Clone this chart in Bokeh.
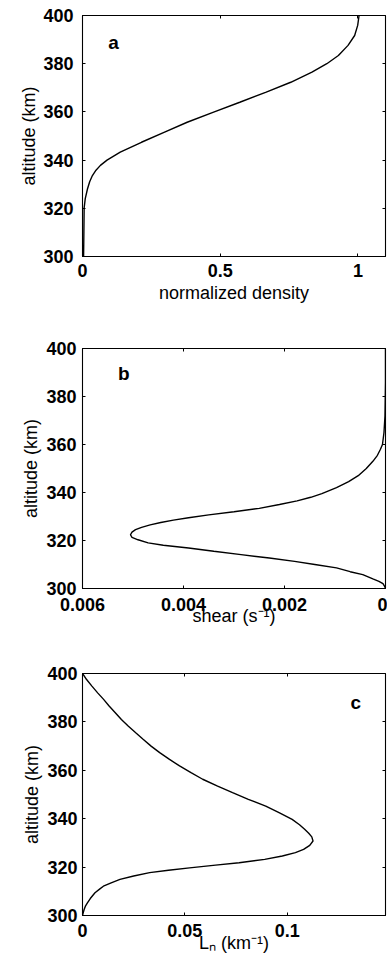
from bokeh.plotting import figure
from bokeh.models import Range1d, LinearAxis, FixedTicker, Label
from bokeh.layouts import column
from bokeh.embed import file_html
from bokeh.resources import INLINE

# ---- data ----
alt_a = [300, 310, 320.2, 324, 328, 331, 333.6, 335.8, 337.8, 340, 343.3, 347.4, 351.6,
         355.7, 359.9, 364, 368.2, 372.3, 376.5, 380, 383.4, 387.6, 391.7, 395.9, 400]
dens_a = [0.004, 0.005, 0.006, 0.01, 0.018, 0.026, 0.036, 0.049, 0.065, 0.089, 0.137,
          0.214, 0.298, 0.38, 0.476, 0.571, 0.667, 0.756, 0.833, 0.887, 0.929, 0.964,
          0.988, 0.999, 1.004]

alt_b = [300, 301, 302, 303, 304, 305.8, 307, 308.6, 310, 311.3, 312.7, 314.1, 315.5,
         316.9, 318, 319, 320.3, 321.3, 322.4, 323.5, 324.5, 325.5, 326.5, 327.5, 328.5,
         329.5, 330.7, 332, 333.4, 335, 336.5, 338, 339.5, 342, 344.5, 347, 350, 353,
         355.5, 358, 360, 365, 372, 386, 400]
shear_b = [0.0, 0.00002, 0.00005, 0.00013, 0.00025, 0.00045, 0.0007, 0.00097, 0.0014,
           0.0018, 0.0023, 0.00286, 0.0034, 0.0039, 0.0044, 0.0047, 0.0049, 0.00502,
           0.00505, 0.00502, 0.00495, 0.00483, 0.00466, 0.00445, 0.0042, 0.0039,
           0.0035, 0.003, 0.0025, 0.0021, 0.00175, 0.00148, 0.00126, 0.00097, 0.00073,
           0.00054, 0.00038, 0.00025, 0.00016, 0.0001, 0.00006, 0.00003, 0.00001, 0.0,
           0.0]

alt_c = [300, 301, 302.5, 304, 305.2, 307, 309.4, 311, 312.1, 313.5, 314.9, 316.3, 317.7,
         318.7, 319.7, 320.8, 321.8, 323.2, 324.6, 326, 327.3, 329, 330.8, 332.5, 334,
         335.6, 337.5, 339.7, 342.5, 345.2, 348, 350.8, 353.5, 356.3, 359, 361.8, 364.5,
         367.3, 370, 372.8, 375.5, 378.3, 381, 383.9, 386.6, 389.4, 392, 394.9, 397.5, 400]
ln_c = [0.0, 0.0003, 0.0008, 0.0015, 0.0024, 0.0038, 0.0061, 0.0085, 0.0102, 0.014,
        0.0183, 0.025, 0.0328, 0.042, 0.0523, 0.065, 0.0765, 0.089, 0.0976, 0.104, 0.108,
        0.111, 0.1126, 0.112, 0.1105, 0.1085, 0.106, 0.1024, 0.096, 0.0895, 0.081,
        0.0733, 0.066, 0.0587, 0.053, 0.0474, 0.0425, 0.0377, 0.0335, 0.0296, 0.026,
        0.0223, 0.019, 0.0159, 0.013, 0.0102, 0.0074, 0.0045, 0.002, 0.0]

y_ticks = [300, 320, 340, 360, 380, 400]
xt_a = [0, 0.5, 1]
xt_b = [0.006, 0.004, 0.002, 0]
xt_c = [0, 0.05, 0.1]

FONT = "Liberation Sans"


def make(width, height, xr, yr, bl, br, bt, bb, xticks, xlabel, xoverrides,
         tick_std, lab_std, ytick_std, ylab_std):
    p = figure(width=width, height=height, x_range=xr, y_range=yr,
               output_backend="svg", toolbar_location=None,
               min_border_left=bl, min_border_right=br,
               min_border_top=bt, min_border_bottom=bb)
    p.grid.visible = False
    p.outline_line_color = "black"
    p.outline_line_width = 1.1
    p.background_fill_color = "white"
    p.border_fill_color = "white"
    for ax, ticks in ((p.xaxis[0], xticks), (p.yaxis[0], y_ticks)):
        ax.ticker = FixedTicker(ticks=ticks)
        ax.major_tick_in = 3
        ax.major_tick_out = 0
        ax.minor_tick_line_color = None
        ax.axis_line_color = "black"
        ax.major_tick_line_color = "black"
        ax.major_label_text_font = FONT
        ax.major_label_text_font_size = "18px"
        ax.major_label_text_font_style = "bold"
        ax.major_label_text_color = "black"
        ax.axis_label_text_font = FONT
        ax.axis_label_text_font_size = "18px"
        ax.axis_label_text_font_style = "normal"
        ax.axis_label_text_color = "black"
    p.xaxis[0].major_label_overrides = xoverrides
    p.xaxis[0].axis_label = xlabel
    p.xaxis[0].major_label_standoff = tick_std
    p.xaxis[0].axis_label_standoff = lab_std
    p.yaxis[0].axis_label = "altitude (km)"
    p.yaxis[0].major_label_standoff = ytick_std
    p.yaxis[0].axis_label_standoff = ylab_std
    # box ticks on top and right
    for loc, ticks in (("above", xticks), ("right", y_ticks)):
        ax = LinearAxis(ticker=FixedTicker(ticks=ticks))
        ax.major_tick_in = 3
        ax.major_tick_out = 0
        ax.minor_tick_line_color = None
        ax.axis_line_color = None
        ax.major_tick_line_color = "black"
        ax.major_label_text_font_size = "0px"
        ax.major_label_standoff = 0
        ax.major_label_text_alpha = 0
        p.add_layout(ax, loc)
    return p


def panel_label(p, x, y, t):
    p.add_layout(Label(x=x, y=y, text=t, text_font=FONT, text_font_size="19px",
                       text_font_style="bold", text_align="center",
                       text_baseline="middle", text_color="black"))


pa = make(387, 314, Range1d(0, 1.1), Range1d(300, 400), 77, 2, 15, 58, xt_a,
          "normalized density", {"0": "0", "0.5": "0.5", "1": "1"}, 7, 3, 9, 1)
pa.line(dens_a, alt_a, line_color="black", line_width=1.4)
panel_label(pa, 0.113, 388.9, "a")

pb = make(387, 316, Range1d(0.006, 0), Range1d(300, 400), 78, 0, 34, 42, xt_b,
          "shear (s\u207b\u00b9)",
          {"0.006": "0.006", "0.004": "0.004", "0.002": "0.002", "0": "0"}, 9, -8, 6, 2)
pb.line(shear_b, alt_b, line_color="black", line_width=1.4)
panel_label(pb, 0.00518, 389.6, "b")

pc = make(387, 327, Range1d(0, 0.148), Range1d(300, 400), 82, 0, 43, 42, xt_c,
          "L\u2099 (km\u207b\u00b9)", {"0": "0", "0.05": "0.05", "0.1": "0.1"}, 8, -7, 5, 2)
pc.line(ln_c, alt_c, line_color="black", line_width=1.4)
panel_label(pc, 0.1335, 388, "c")

layout = column(pa, pb, pc, spacing=0)
open("out.html", "w").write(file_html(layout, INLINE))
